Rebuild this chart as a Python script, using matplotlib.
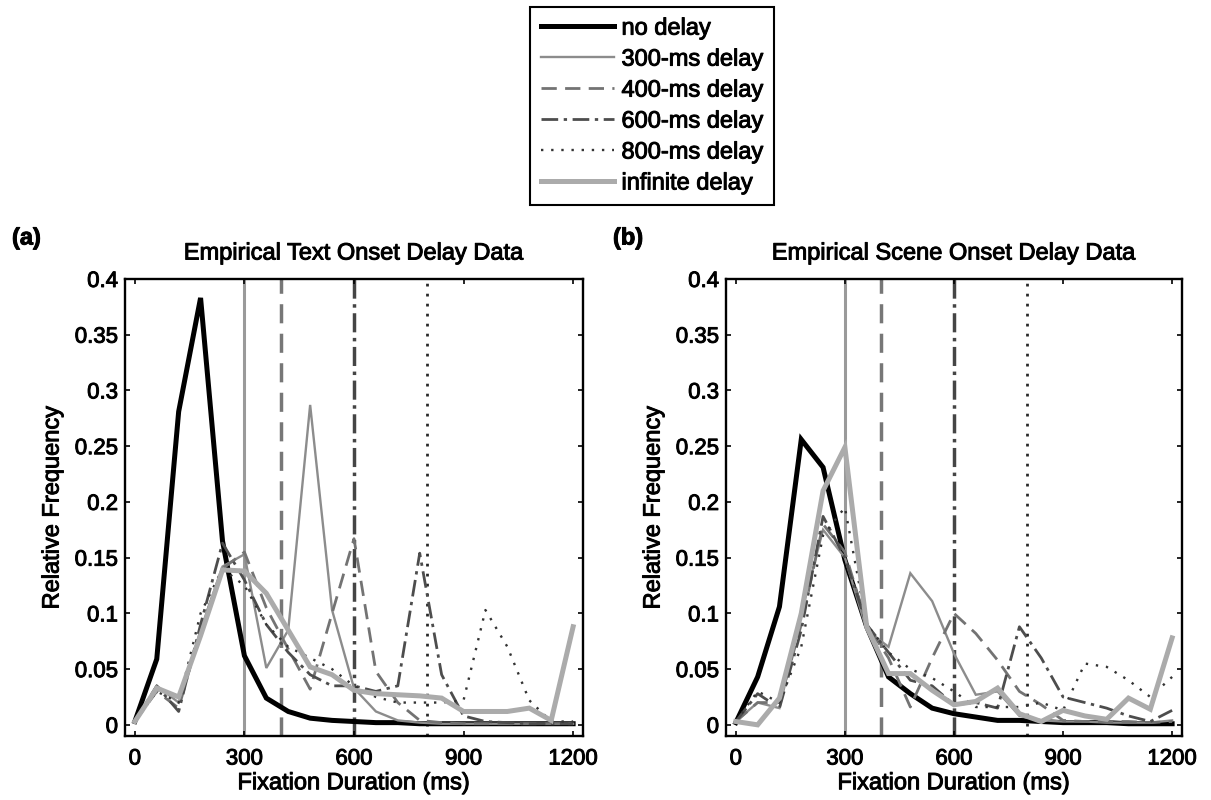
import matplotlib
matplotlib.use("Agg")
import matplotlib.pyplot as plt
import matplotlib.patheffects as pe
from matplotlib.lines import Line2D
from matplotlib.ticker import FormatStrFormatter

plt.rcParams["font.family"] = ["Liberation Sans", "DejaVu Sans"]

# fixation-duration bins (ms)
BINS = [0, 60, 120, 180, 240, 300, 360, 420, 480, 540, 600,
        660, 720, 780, 840, 900, 960, 1020, 1080, 1140, 1200]

# (a) text onset delay
TEXT_NO_DELAY = [0.003, 0.059, 0.281, 0.383, 0.165, 0.062, 0.024, 0.012, 0.006, 0.004, 0.003,
                 0.002, 0.002, 0.001, 0.001, 0.001, 0.001, 0.001, 0.001, 0.001, 0.001]
TEXT_300 = [0.003, 0.035, 0.020, 0.085, 0.142, 0.153, 0.051, 0.085, 0.287, 0.103, 0.033,
            0.012, 0.004, 0.002, 0.001, 0.001, 0.001, 0.001, 0.001, 0.001, 0.001]
TEXT_400 = [0.003, 0.030, 0.015, 0.085, 0.140, 0.155, 0.105, 0.068, 0.032, 0.100, 0.167,
            0.048, 0.020, 0.004, 0.002, 0.001, 0.001, 0.001, 0.001, 0.001, 0.001]
TEXT_600 = [0.003, 0.035, 0.012, 0.090, 0.163, 0.130, 0.090, 0.065, 0.045, 0.035, 0.035,
            0.030, 0.035, 0.154, 0.045, 0.008, 0.003, 0.002, 0.001, 0.001, 0.001]
TEXT_800 = [0.003, 0.030, 0.020, 0.100, 0.140, 0.125, 0.090, 0.070, 0.060, 0.050, 0.035,
            0.025, 0.020, 0.020, 0.020, 0.022, 0.103, 0.070, 0.022, 0.003, 0.003]
TEXT_INF = [0.003, 0.033, 0.025, 0.080, 0.139, 0.138, 0.118, 0.085, 0.052, 0.045, 0.031,
            0.028, 0.027, 0.026, 0.024, 0.012, 0.012, 0.012, 0.015, 0.004, 0.088]

# (b) scene onset delay
SCENE_NO_DELAY = [0.002, 0.043, 0.106, 0.256, 0.231, 0.148, 0.088, 0.043, 0.028, 0.015, 0.010,
                  0.007, 0.004, 0.004, 0.003, 0.002, 0.002, 0.002, 0.001, 0.001, 0.001]
SCENE_300 = [0.003, 0.020, 0.015, 0.100, 0.175, 0.150, 0.085, 0.070, 0.136, 0.111, 0.064,
             0.027, 0.030, 0.008, 0.004, 0.003, 0.003, 0.002, 0.002, 0.002, 0.004]
SCENE_400 = [0.003, 0.020, 0.020, 0.090, 0.180, 0.155, 0.090, 0.060, 0.016, 0.060, 0.100,
             0.082, 0.058, 0.030, 0.018, 0.004, 0.003, 0.003, 0.003, 0.002, 0.003]
SCENE_600 = [0.003, 0.028, 0.015, 0.085, 0.187, 0.150, 0.090, 0.065, 0.040, 0.035, 0.018,
             0.020, 0.015, 0.088, 0.060, 0.025, 0.020, 0.015, 0.008, 0.003, 0.013]
SCENE_800 = [0.003, 0.030, 0.020, 0.070, 0.170, 0.195, 0.090, 0.065, 0.050, 0.042, 0.030,
             0.016, 0.016, 0.016, 0.020, 0.013, 0.055, 0.052, 0.040, 0.025, 0.043]
SCENE_INF = [0.003, 0.000, 0.024, 0.100, 0.210, 0.249, 0.088, 0.046, 0.046, 0.031, 0.018,
             0.021, 0.033, 0.010, 0.003, 0.013, 0.008, 0.005, 0.024, 0.014, 0.078]

DELAYS = [300, 400, 600, 800]
LABELS = ["no delay", "300-ms delay", "400-ms delay", "600-ms delay",
          "800-ms delay", "infinite delay"]

# line styles per condition: colour, width, linestyle
STYLES = [
    ("#000000", 3.6, "-"),
    ("#8c8c8c", 1.7, "-"),
    ("#737373", 2.0, (0, (5.5, 3.0))),
    ("#4d4d4d", 2.0, (0, (6.0, 2.0, 1.2, 2.0))),
    ("#333333", 1.7, (0, (1.0, 3.3))),
    ("#ababab", 3.6, "-"),
]
VLINE_STYLES = [
    ("#9a9a9a", 2.2, "-"),
    ("#777777", 2.5, (0, (5.5, 3.0))),
    ("#454545", 2.5, (0, (5.5, 1.6, 1.0, 1.6))),
    ("#2a2a2a", 2.0, (0, (1.0, 2.6))),
]

# the original text is a bit heavier than plain Liberation Sans
HEAVY = [pe.withStroke(linewidth=0.7, foreground="black")]

fig = plt.figure(figsize=(12.11, 8), dpi=100)
axA = fig.add_axes([0.1032, 0.08, 0.3782, 0.5713])
axB = fig.add_axes([0.5995, 0.08, 0.3765, 0.5713])

panels = [
    (axA, [TEXT_NO_DELAY, TEXT_300, TEXT_400, TEXT_600, TEXT_800, TEXT_INF],
     "Empirical Text Onset Delay Data"),
    (axB, [SCENE_NO_DELAY, SCENE_300, SCENE_400, SCENE_600, SCENE_800, SCENE_INF],
     "Empirical Scene Onset Delay Data"),
]

for ax, series, title in panels:
    for d, (c, lw, ls) in zip(DELAYS, VLINE_STYLES):
        ax.axvline(d, color=c, lw=lw, linestyle=ls, zorder=1)
    for ys, (c, lw, ls) in zip(series, STYLES):
        ax.plot(BINS, ys, color=c, lw=lw, linestyle=ls, zorder=2,
                solid_joinstyle="miter")
    ax.set_xlim(-27, 1227)
    ax.set_ylim(-0.01, 0.4)
    ax.set_xticks([0, 300, 600, 900, 1200])
    ax.set_yticks([0, 0.05, 0.1, 0.15, 0.2, 0.25, 0.3, 0.35, 0.4])
    ax.yaxis.set_major_formatter(FormatStrFormatter("%g"))
    ax.tick_params(direction="in", top=True, right=True, length=3.5, width=1.2,
                   labelsize=16)
    ax.tick_params(axis="x", pad=9)
    ax.tick_params(axis="y", pad=5)
    for sp in ax.spines.values():
        sp.set_linewidth(1.7)
    ax.set_xlabel("Fixation Duration (ms)", fontsize=17, labelpad=2,
                  path_effects=HEAVY)
    ax.set_ylabel("Relative Frequency", fontsize=17, labelpad=8,
                  path_effects=HEAVY)
    ax.set_title(title, fontsize=17, pad=14, path_effects=HEAVY)
    for lab in ax.get_xticklabels() + ax.get_yticklabels():
        lab.set_path_effects(HEAVY)

for x0, tag in [(12, "(a)"), (613, "(b)")]:
    fig.text(x0 / 1211, 1 - 238 / 800, tag, fontsize=17, fontweight="bold",
             va="center", path_effects=HEAVY)

handles = [Line2D([], [], color=c, lw=lw, linestyle=ls) for c, lw, ls in STYLES]
leg = fig.legend(handles, LABELS, loc="upper center",
                 bbox_to_anchor=(652 / 1211, 1 - 7 / 800), fontsize=17,
                 frameon=True, fancybox=False, edgecolor="black", framealpha=1,
                 handlelength=3.1, handletextpad=0.33, labelspacing=0.38,
                 borderpad=0.45, borderaxespad=0)
leg.get_frame().set_linewidth(1.5)
for t in leg.get_texts():
    t.set_path_effects(HEAVY)

fig.savefig("out.png", dpi=100)
